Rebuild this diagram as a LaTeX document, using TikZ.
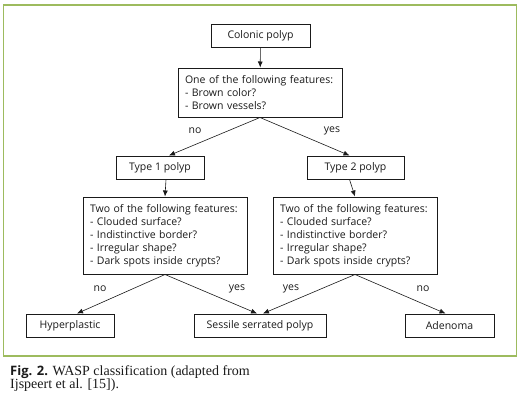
\documentclass[tikz,border=0pt]{standalone}
\usepackage{fontspec}
\setmainfont{Open Sans}
\newfontfamily\capserif{Liberation Serif}
\usetikzlibrary{arrows.meta}
\definecolor{ink}{HTML}{1A1A1A}
\definecolor{frame}{HTML}{9DBB5E}
\tikzset{
  flow/.style={-{Latex[length=6pt,width=5pt]}, line width=0.6pt, color=ink},
  blk/.style={draw=ink, line width=1pt, fill=white, inner sep=0pt,
    minimum height=23pt, font=\fontsize{10.5}{12}\selectfont, text=ink},
  qbox/.style={draw=ink, line width=1pt, fill=white, inner xsep=7pt, inner ysep=0pt,
    minimum width=164pt, text width=150pt, align=left,
    font=\fontsize{10.5}{12.9}\selectfont, text=ink},
  lbl/.style={font=\fontsize{10.5}{12}\selectfont, text=ink},
}
\begin{document}
\begin{tikzpicture}[x=1pt,y=-1pt]
  \useasboundingbox (0,0) rectangle (521,407);
  \draw[frame, line width=1.2pt] (3.5,5) rectangle (516.5,356);
  % nodes
  \node[blk, minimum width=99pt] (colonic) at (260.5,35.5) {Colonic polyp};
  \node[qbox, minimum height=49pt] (brown) at (260,92.5) {One of the following features:\\- Brown color?\\- Brown vessels?};
  \node[blk, minimum width=88pt] (type1) at (160,167.5) {Type 1 polyp};
  \node[blk, minimum width=97pt] (type2) at (355.5,167.5) {Type 2 polyp};
  \node[qbox, minimum height=77pt] (feat1) at (165,235.5) {Two of the following features:\\- Clouded surface?\\- Indistinctive border?\\- Irregular shape?\\- Dark spots inside crypts?};
  \node[qbox, minimum height=77pt] (feat2) at (355,235.5) {Two of the following features:\\- Clouded surface?\\- Indistinctive border?\\- Irregular shape?\\- Dark spots inside crypts?};
  \node[blk, minimum width=88pt] (hyper) at (70,325.5) {Hyperplastic};
  \node[blk, minimum width=132pt] (sessile) at (260,325.5) {Sessile serrated polyp};
  \node[blk, minimum width=89pt] (adenoma) at (449.5,325.5) {Adenoma};
  % connectors
  \draw[flow] (colonic) -- (brown);
  \draw[flow] (brown.south) -- ([xshift=9pt]type1.north);
  \draw[flow] (brown.south) -- ([xshift=-6pt]type2.north);
  \draw[flow] ([xshift=6pt]type1.south) -- (feat1.north);
  \draw[flow] ([xshift=-6pt]type2.south) -- (feat2.north);
  \draw[flow] (feat1.south) -- ([xshift=7pt]hyper.north);
  \draw[flow] (feat1.south) -- ([xshift=-3pt]sessile.north);
  \draw[flow] (feat2.south) -- ([xshift=3pt]sessile.north);
  \draw[flow] (feat2.south) -- ([xshift=-4pt]adenoma.north);
  % labels
  \node[lbl] (l1) at (195,131) {no};
  \node[lbl] (l2) at (332,131) {yes};
  \node[lbl] (l3) at (100,289) {no};
  \node[lbl] (l4) at (237,289) {yes};
  \node[lbl] (l5) at (291,289) {yes};
  \node[lbl] (l6) at (423,289) {no};
  % caption
  \node[anchor=north west, align=left, inner sep=0pt, text=ink,
    font=\capserif\fontsize{14}{12.8}\selectfont] (cap) at (10,365)
    {{\fontspec{Open Sans}\bfseries\fontsize{13}{12.8}\selectfont Fig. 2.} WASP classification (adapted from\\Ijspeert et al. [15]).};
\end{tikzpicture}
\end{document}
